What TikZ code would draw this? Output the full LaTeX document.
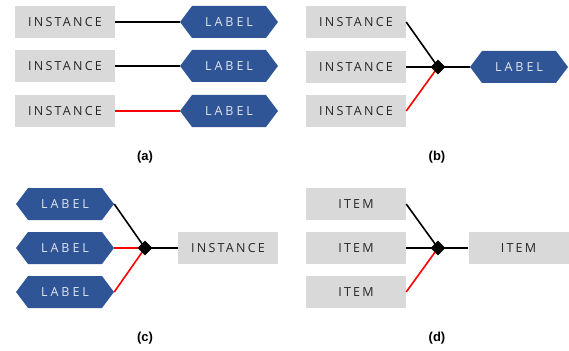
\documentclass[tikz,border=0pt]{standalone}
\usepackage{fontspec}
\setmainfont{Liberation Sans}
\newfontfamily\boxfont[LetterSpace=18]{Open Sans}
\newfontfamily\tagfont[LetterSpace=24]{Open Sans}
\usetikzlibrary{shapes.symbols,shapes.geometric}
\definecolor{boxgray}{HTML}{D9D9D9}
\definecolor{tagblue}{HTML}{2F5597}
\definecolor{tagtext}{HTML}{E2E6EE}
\tikzset{
  inst/.style={fill=boxgray, minimum width=100pt, minimum height=32pt, inner sep=0pt,
    text height=9pt, text depth=0pt,
    text=black!85, font=\boxfont\fontsize{12.5}{14}\selectfont},
  tag/.style={signal, signal to=east and west, signal pointer angle=106, fill=tagblue,
    minimum width=98pt, minimum height=32pt, inner sep=0pt,
    text height=9pt, text depth=0pt,
    text=tagtext, font=\tagfont\fontsize{12.5}{14}\selectfont},
  knot/.style={diamond, fill=black, minimum size=15pt, inner sep=0pt},
  wire/.style={line width=1.6pt},
  badwire/.style={wire, red},
  subcap/.style={font=\bfseries\fontsize{13}{15}\selectfont}
}
\begin{document}
\begin{tikzpicture}[x=1pt,y=-1pt]
\useasboundingbox (0,0) rectangle (569,350);

% (a) one instance, one label
\node[inst] (a1) at (65,22) {INSTANCE};
\node[inst] (a2) at (65,66) {INSTANCE};
\node[inst] (a3) at (65,111) {INSTANCE};
\node[tag] (al1) at (229,22) {LABEL};
\node[tag] (al2) at (229,66) {LABEL};
\node[tag] (al3) at (229,111) {LABEL};
\draw[wire] (a1.east) -- (al1.west);
\draw[wire] (a2.east) -- (al2.west);
\draw[badwire] (a3.east) -- (al3.west);
\node[subcap] (capa) at (145,157) {(a)};

% (b) three instances, one label
\node[inst] (b1) at (356,22) {INSTANCE};
\node[inst] (b2) at (356,67) {INSTANCE};
\node[inst] (b3) at (356,111) {INSTANCE};
\node[tag] (bl) at (519,67) {LABEL};
\coordinate (bk) at (438,67);
\draw[wire] (b1.east) -- (bk);
\draw[wire] (b2.east) -- (bk);
\draw[badwire] (b3.east) -- (bk);
\draw[wire] (bk) -- (bl.west);
\node[knot] (bknot) at (bk) {};
\node[subcap] (capb) at (437,157) {(b)};

% (c) three labels, one instance
\node[tag] (cl1) at (65,204) {LABEL};
\node[tag] (cl2) at (65,248) {LABEL};
\node[tag] (cl3) at (65,292) {LABEL};
\node[inst] (c1) at (228,248) {INSTANCE};
\coordinate (ck) at (145,248);
\draw[wire] (cl1.east) -- (ck);
\draw[badwire] (cl2.east) -- (ck);
\draw[badwire] (cl3.east) -- (ck);
\draw[wire] (ck) -- (c1.west);
\node[knot] (cknot) at (ck) {};
\node[subcap] (capc) at (145,338) {(c)};

% (d) three items, one item
\node[inst] (d1) at (356,204) {ITEM};
\node[inst] (d2) at (356,248) {ITEM};
\node[inst] (d3) at (356,292) {ITEM};
\node[inst] (d4) at (518.5,248) {ITEM};
\coordinate (dk) at (438,248);
\draw[wire] (d1.east) -- (dk);
\draw[wire] (d2.east) -- (dk);
\draw[badwire] (d3.east) -- (dk);
\draw[wire] (dk) -- (d4.west);
\node[knot] (dknot) at (dk) {};
\node[subcap] (capd) at (437,338) {(d)};
\end{tikzpicture}
\end{document}
